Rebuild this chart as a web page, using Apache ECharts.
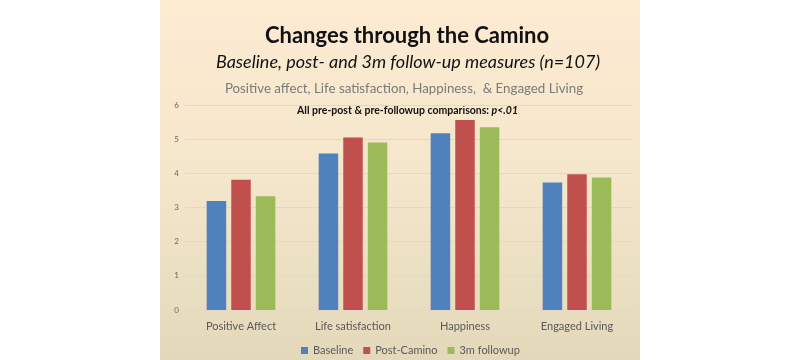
<!DOCTYPE html>
<html><head><meta charset="utf-8">
<script src="https://cdn.jsdelivr.net/npm/echarts@6/dist/echarts.min.js"></script>
<style>html,body{margin:0;padding:0;background:#fff}#c{width:800px;height:360px}</style>
</head><body><div id="c"></div>
<script>
const categories = ['Positive Affect', 'Life satisfaction', 'Happiness', 'Engaged Living'];
const baseline = [3.19, 4.58, 5.17, 3.73];
const postCamino = [3.81, 5.05, 5.56, 3.97];
const followup3m = [3.33, 4.90, 5.35, 3.88];
const seriesNames = ['Baseline', 'Post-Camino', '3m followup'];
const yTicks = [0, 1, 2, 3, 4, 5, 6];

const font = 'Lato, "Open Sans", sans-serif';
const chart = echarts.init(document.getElementById('c'));
const colors = ['#4F81BD', '#C0504D', '#9BBB59'];
const mk = (name, data, i) => ({
  name, type: 'bar', data, barWidth: 19.5, barGap: '26%',
  itemStyle: { color: colors[i] }
});
const txt = (x, y, style) => ({ type: 'text', x, y, style: Object.assign({ align: 'center', verticalAlign: 'middle' }, style) });
chart.setOption({
  animation: false,
  graphic: [
    { type: 'rect', z: -10, shape: { x: 160, y: 0, width: 480, height: 360 },
      style: { fill: new echarts.graphic.LinearGradient(0, 0, 0, 1, [
        { offset: 0, color: '#FDEBD2' }, { offset: 0.5, color: '#F4E6CB' }, { offset: 1, color: '#E3D9BA' }]) } },
    txt(407, 36, { text: 'Changes through the Camino', font: 'bold 22px ' + font, fill: '#111' }),
    txt(408, 62, { text: 'Baseline, post- and 3m follow-up measures (n=107)', font: 'italic 18px ' + font, fill: '#111' }),
    txt(404, 88.5, { text: 'Positive affect, Life satisfaction, Happiness,  & Engaged Living', font: '13.3px ' + font, fill: '#7a7a7a' }),
    txt(407.5, 110.5, { rich: {
        a: { font: 'bold 10.5px ' + font, fill: '#111' },
        b: { font: 'italic bold 10.5px ' + font, fill: '#111' } },
      text: '{a|All pre-post & pre-followup comparisons: }{b|p<.01}' })
  ],
  grid: { left: 185, right: 167, top: 105, bottom: 50 },
  legend: {
    data: seriesNames, top: 340, left: 296, itemWidth: 7, itemHeight: 7, itemGap: 10,
    icon: 'rect', textStyle: { fontFamily: font, fontSize: 11, color: '#595959' }
  },
  xAxis: {
    type: 'category', data: categories,
    axisLine: { show: false }, axisTick: { show: false },
    axisLabel: { fontFamily: font, fontSize: 11, color: '#595959', margin: 11 }
  },
  yAxis: {
    type: 'value', min: yTicks[0], max: yTicks[yTicks.length - 1], interval: 1,
    axisLine: { show: false }, axisTick: { show: false },
    axisLabel: { fontFamily: font, fontSize: 8, color: '#666', margin: 6 },
    splitLine: { lineStyle: { color: '#E2D9C4', width: 1 } }
  },
  series: [mk(seriesNames[0], baseline, 0), mk(seriesNames[1], postCamino, 1), mk(seriesNames[2], followup3m, 2)]
});
</script></body></html>
